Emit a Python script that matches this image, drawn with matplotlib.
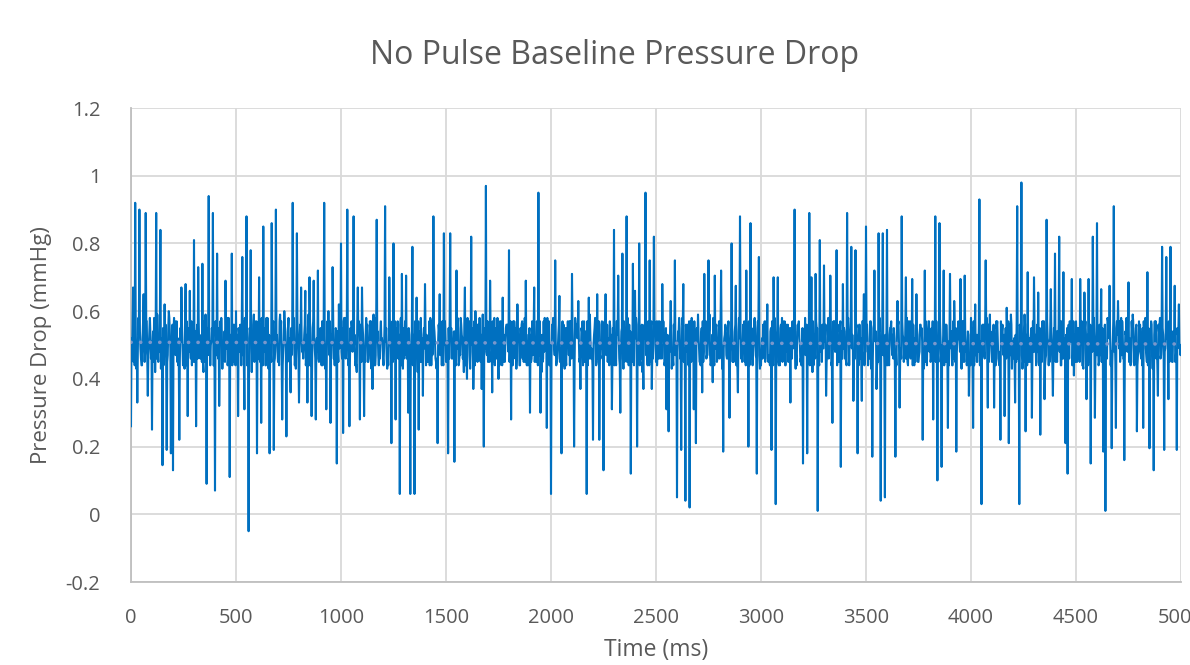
import numpy as np
import matplotlib
matplotlib.use("Agg")
import matplotlib.pyplot as plt

plt.rcParams['font.family'] = ['Open Sans', 'DejaVu Sans']
plt.rcParams['axes.unicode_minus'] = False

# main samples every 10 ms (spikes), one row per 100 ms
time_main = np.arange(0, 5001, 10)
pressure_main = [
    0.26, 0.67, 0.92, 0.33, 0.90, 0.44, 0.65, 0.89, 0.35, 0.58,
    0.25, 0.58, 0.89, 0.45, 0.84, 0.145, 0.62, 0.19, 0.60, 0.18,
    0.13, 0.57, 0.45, 0.22, 0.67, 0.46, 0.68, 0.29, 0.66, 0.44,
    0.81, 0.26, 0.73, 0.46, 0.74, 0.45, 0.09, 0.94, 0.50, 0.89,
    0.07, 0.77, 0.32, 0.58, 0.46, 0.69, 0.44, 0.11, 0.77, 0.45,
    0.60, 0.29, 0.56, 0.76, 0.31, 0.88, -0.05, 0.78, 0.46, 0.57,
    0.18, 0.70, 0.27, 0.85, 0.44, 0.58, 0.18, 0.86, 0.19, 0.90,
    0.45, 0.59, 0.28, 0.60, 0.23, 0.58, 0.36, 0.92, 0.44, 0.83,
    0.33, 0.67, 0.46, 0.66, 0.33, 0.70, 0.29, 0.69, 0.28, 0.72,
    0.46, 0.57, 0.92, 0.31, 0.60, 0.27, 0.73, 0.44, 0.15, 0.62,
    0.80, 0.24, 0.58, 0.90, 0.26, 0.57, 0.88, 0.45, 0.67, 0.28,
    0.67, 0.29, 0.58, 0.45, 0.56, 0.37, 0.58, 0.87, 0.44, 0.57,
    0.46, 0.91, 0.43, 0.70, 0.21, 0.80, 0.28, 0.57, 0.06, 0.71,
    0.46, 0.705, 0.30, 0.06, 0.79, 0.06, 0.64, 0.25, 0.58, 0.35,
    0.68, 0.45, 0.57, 0.44, 0.88, 0.46, 0.21, 0.65, 0.44, 0.83,
    0.45, 0.18, 0.83, 0.46, 0.155, 0.72, 0.44, 0.58, 0.46, 0.67,
    0.40, 0.57, 0.82, 0.37, 0.60, 0.45, 0.58, 0.37, 0.20, 0.97,
    0.45, 0.69, 0.36, 0.58, 0.46, 0.40, 0.57, 0.64, 0.45, 0.56,
    0.78, 0.28, 0.57, 0.46, 0.62, 0.44, 0.56, 0.45, 0.69, 0.44,
    0.30, 0.57, 0.67, 0.45, 0.95, 0.30, 0.45, 0.58, 0.255, 0.57,
    0.06, 0.58, 0.75, 0.46, 0.645, 0.18, 0.56, 0.46, 0.57, 0.44,
    0.71, 0.20, 0.56, 0.63, 0.37, 0.57, 0.45, 0.06, 0.64, 0.46,
    0.22, 0.58, 0.65, 0.22, 0.56, 0.13, 0.65, 0.45, 0.57, 0.31,
    0.84, 0.44, 0.705, 0.30, 0.77, 0.45, 0.88, 0.44, 0.12, 0.74,
    0.66, 0.20, 0.80, 0.46, 0.37, 0.95, 0.44, 0.75, 0.37, 0.82,
    0.45, 0.57, 0.46, 0.68, 0.44, 0.31, 0.245, 0.63, 0.46, 0.75,
    0.05, 0.58, 0.19, 0.68, 0.04, 0.56, 0.02, 0.58, 0.31, 0.21,
    0.59, 0.45, 0.36, 0.71, 0.46, 0.75, 0.44, 0.39, 0.705, 0.45,
    0.57, 0.72, 0.185, 0.56, 0.46, 0.285, 0.80, 0.45, 0.675, 0.36,
    0.88, 0.45, 0.57, 0.72, 0.20, 0.86, 0.44, 0.58, 0.12, 0.76,
    0.44, 0.56, 0.45, 0.62, 0.46, 0.19, 0.70, 0.03, 0.70, 0.44,
    0.58, 0.46, 0.56, 0.45, 0.33, 0.57, 0.90, 0.44, 0.57, 0.46,
    0.15, 0.58, 0.18, 0.89, 0.70, 0.44, 0.71, 0.01, 0.81, 0.45,
    0.735, 0.35, 0.58, 0.705, 0.27, 0.57, 0.78, 0.45, 0.14, 0.68,
    0.46, 0.89, 0.44, 0.79, 0.335, 0.78, 0.18, 0.56, 0.335, 0.65,
    0.85, 0.44, 0.57, 0.17, 0.72, 0.37, 0.83, 0.04, 0.83, 0.05,
    0.84, 0.44, 0.57, 0.46, 0.17, 0.63, 0.315, 0.88, 0.45, 0.70,
    0.44, 0.57, 0.695, 0.44, 0.65, 0.45, 0.56, 0.22, 0.72, 0.44,
    0.57, 0.46, 0.28, 0.88, 0.10, 0.86, 0.14, 0.72, 0.45, 0.255,
    0.71, 0.44, 0.63, 0.185, 0.57, 0.695, 0.45, 0.705, 0.44, 0.35,
    0.58, 0.255, 0.62, 0.45, 0.93, 0.03, 0.56, 0.75, 0.315, 0.59,
    0.45, 0.315, 0.57, 0.46, 0.22, 0.56, 0.29, 0.61, 0.21, 0.59,
    0.46, 0.33, 0.91, 0.03, 0.98, 0.45, 0.245, 0.715, 0.45, 0.285,
    0.70, 0.44, 0.655, 0.235, 0.57, 0.34, 0.87, 0.44, 0.665, 0.35,
    0.77, 0.45, 0.82, 0.44, 0.715, 0.21, 0.12, 0.57, 0.695, 0.41,
    0.57, 0.46, 0.695, 0.44, 0.655, 0.34, 0.695, 0.15, 0.82, 0.285,
    0.86, 0.45, 0.665, 0.185, 0.01, 0.58, 0.675, 0.195, 0.91, 0.255,
    0.63, 0.45, 0.57, 0.16, 0.58, 0.685, 0.44, 0.59, 0.45, 0.245,
    0.57, 0.46, 0.255, 0.58, 0.715, 0.195, 0.56, 0.13, 0.57, 0.35,
    0.58, 0.79, 0.19, 0.76, 0.34, 0.79, 0.45, 0.675, 0.19, 0.62,
    0.50,
]

# samples in between (2.5, 5 and 7.5 ms after each main sample),
# these form the dense band around 0.45-0.58
pressure_q1 = [
    0.52, 0.45, 0.56, 0.48, 0.54, 0.44, 0.51, 0.57, 0.47, 0.53,
    0.49, 0.56, 0.46, 0.53, 0.43, 0.55, 0.50, 0.45, 0.58, 0.48,
    0.54, 0.47, 0.52, 0.45, 0.57, 0.50, 0.44, 0.55, 0.49, 0.56,
    0.46, 0.53, 0.57, 0.49, 0.45, 0.52, 0.55, 0.47, 0.51, 0.44,
    0.57, 0.48, 0.45, 0.54, 0.50, 0.56, 0.46, 0.53, 0.44, 0.51,
    0.45, 0.55, 0.51, 0.47, 0.58, 0.44, 0.52, 0.49, 0.56, 0.46,
    0.53, 0.46, 0.58, 0.50, 0.44, 0.54, 0.48, 0.57, 0.45, 0.52,
    0.50, 0.54, 0.44, 0.56, 0.48, 0.46, 0.55, 0.51, 0.47, 0.57,
    0.47, 0.52, 0.49, 0.44, 0.55, 0.57, 0.45, 0.53, 0.50, 0.46,
    0.55, 0.44, 0.53, 0.48, 0.51, 0.46, 0.58, 0.47, 0.54, 0.49,
    0.48, 0.57, 0.46, 0.52, 0.45, 0.55, 0.50, 0.44, 0.53, 0.56,
    0.56, 0.49, 0.54, 0.46, 0.57, 0.48, 0.44, 0.52, 0.47, 0.51,
    0.44, 0.51, 0.47, 0.58, 0.49, 0.53, 0.55, 0.46, 0.56, 0.48,
    0.51, 0.46, 0.55, 0.50, 0.44, 0.57, 0.48, 0.54, 0.45, 0.53,
    0.54, 0.48, 0.44, 0.53, 0.56, 0.45, 0.51, 0.47, 0.57, 0.50,
    0.46, 0.55, 0.52, 0.47, 0.54, 0.49, 0.45, 0.56, 0.48, 0.44,
    0.58, 0.47, 0.50, 0.45, 0.53, 0.56, 0.46, 0.51, 0.55, 0.48,
    0.49, 0.53, 0.57, 0.44, 0.47, 0.52, 0.54, 0.45, 0.50, 0.56,
    0.45, 0.56, 0.48, 0.55, 0.51, 0.44, 0.57, 0.49, 0.46, 0.53,
    0.53, 0.47, 0.45, 0.57, 0.52, 0.48, 0.46, 0.55, 0.58, 0.44,
    0.47, 0.54, 0.51, 0.49, 0.45, 0.56, 0.53, 0.44, 0.52, 0.57,
    0.55, 0.45, 0.56, 0.52, 0.48, 0.44, 0.50, 0.57, 0.46, 0.49,
    0.50, 0.52, 0.46, 0.44, 0.57, 0.53, 0.47, 0.49, 0.55, 0.45,
    0.44, 0.57, 0.53, 0.48, 0.46, 0.55, 0.45, 0.56, 0.51, 0.52,
    0.52, 0.49, 0.44, 0.56, 0.54, 0.47, 0.57, 0.45, 0.48, 0.55,
    0.57, 0.46, 0.50, 0.53, 0.45, 0.51, 0.48, 0.55, 0.44, 0.47,
    0.48, 0.55, 0.47, 0.45, 0.56, 0.49, 0.52, 0.46, 0.57, 0.53,
    0.53, 0.44, 0.57, 0.51, 0.47, 0.54, 0.45, 0.58, 0.49, 0.46,
    0.46, 0.52, 0.49, 0.55, 0.53, 0.45, 0.56, 0.47, 0.44, 0.54,
    0.56, 0.48, 0.45, 0.50, 0.57, 0.46, 0.49, 0.53, 0.55, 0.47,
    0.49, 0.54, 0.52, 0.46, 0.44, 0.57, 0.53, 0.48, 0.45, 0.55,
    0.45, 0.57, 0.48, 0.53, 0.55, 0.49, 0.46, 0.54, 0.52, 0.44,
    0.54, 0.47, 0.55, 0.44, 0.50, 0.53, 0.57, 0.45, 0.48, 0.56,
    0.51, 0.45, 0.46, 0.57, 0.53, 0.48, 0.44, 0.56, 0.54, 0.49,
    0.47, 0.56, 0.53, 0.49, 0.45, 0.55, 0.51, 0.46, 0.57, 0.44,
    0.55, 0.48, 0.57, 0.46, 0.52, 0.44, 0.54, 0.50, 0.47, 0.53,
    0.44, 0.53, 0.50, 0.55, 0.48, 0.56, 0.45, 0.57, 0.52, 0.46,
    0.57, 0.46, 0.44, 0.52, 0.55, 0.47, 0.53, 0.49, 0.45, 0.54,
    0.48, 0.55, 0.53, 0.45, 0.47, 0.57, 0.50, 0.44, 0.56, 0.51,
    0.52, 0.44, 0.56, 0.48, 0.54, 0.46, 0.57, 0.53, 0.49, 0.45,
    0.46, 0.57, 0.47, 0.53, 0.44, 0.52, 0.48, 0.55, 0.56, 0.50,
    0.54, 0.49, 0.55, 0.45, 0.57, 0.48, 0.46, 0.52, 0.44, 0.56,
    0.49, 0.53, 0.46, 0.56, 0.47, 0.55, 0.53, 0.45, 0.51, 0.47,
    0.56, 0.45, 0.52, 0.47, 0.53, 0.44, 0.57, 0.49, 0.54, 0.48,
    0.45, 0.54, 0.48, 0.57, 0.46, 0.53, 0.50, 0.56, 0.44, 0.52,
    0.53, 0.47, 0.56, 0.44, 0.55, 0.49, 0.45, 0.52, 0.57, 0.46,
    0.47, 0.56, 0.45, 0.53, 0.49, 0.57, 0.52, 0.44, 0.48, 0.55,
    0.55, 0.48, 0.53, 0.46, 0.56, 0.45, 0.49, 0.57, 0.51, 0.44,
    0.50, 0.52, 0.57, 0.49, 0.44, 0.54, 0.47, 0.53, 0.46, 0.56,
    0.46, 0.55, 0.48, 0.52, 0.57, 0.47, 0.54, 0.45, 0.55, 0.49,
]

pressure_mid = [
    0.47, 0.55, 0.43, 0.58, 0.49, 0.52, 0.45, 0.57, 0.50, 0.46,
    0.54, 0.42, 0.59, 0.48, 0.51, 0.44, 0.56, 0.47, 0.53, 0.45,
    0.58, 0.49, 0.44, 0.55, 0.50, 0.43, 0.57, 0.52, 0.46, 0.54,
    0.45, 0.56, 0.48, 0.53, 0.42, 0.59, 0.47, 0.51, 0.55, 0.44,
    0.52, 0.46, 0.57, 0.43, 0.54, 0.49, 0.58, 0.45, 0.50, 0.56,
    0.48, 0.53, 0.44, 0.57, 0.51, 0.46, 0.55, 0.42, 0.59, 0.47,
    0.55, 0.45, 0.52, 0.48, 0.58, 0.43, 0.50, 0.56, 0.46, 0.53,
    0.44, 0.57, 0.49, 0.54, 0.45, 0.52, 0.47, 0.58, 0.43, 0.51,
    0.56, 0.48, 0.53, 0.46, 0.59, 0.44, 0.55, 0.49, 0.52, 0.45,
    0.50, 0.54, 0.43, 0.57, 0.47, 0.53, 0.46, 0.55, 0.48, 0.58,
    0.46, 0.58, 0.51, 0.44, 0.55, 0.48, 0.53, 0.42, 0.57, 0.49,
    0.53, 0.45, 0.56, 0.50, 0.43, 0.59, 0.47, 0.54, 0.46, 0.52,
    0.49, 0.55, 0.44, 0.52, 0.57, 0.46, 0.51, 0.48, 0.58, 0.43,
    0.57, 0.47, 0.53, 0.45, 0.50, 0.56, 0.42, 0.54, 0.49, 0.55,
    0.44, 0.52, 0.58, 0.47, 0.54, 0.43, 0.56, 0.50, 0.45, 0.57,
    0.51, 0.46, 0.55, 0.49, 0.44, 0.58, 0.48, 0.53, 0.42, 0.56,
    0.55, 0.43, 0.50, 0.57, 0.46, 0.53, 0.45, 0.59, 0.51, 0.47,
    0.48, 0.56, 0.45, 0.52, 0.58, 0.44, 0.54, 0.47, 0.55, 0.50,
    0.52, 0.47, 0.57, 0.43, 0.51, 0.55, 0.46, 0.58, 0.44, 0.53,
    0.45, 0.54, 0.49, 0.56, 0.47, 0.42, 0.57, 0.50, 0.53, 0.46,
    0.56, 0.50, 0.44, 0.53, 0.48, 0.57, 0.43, 0.55, 0.47, 0.52,
    0.47, 0.58, 0.52, 0.45, 0.55, 0.49, 0.54, 0.44, 0.59, 0.48,
    0.53, 0.44, 0.56, 0.51, 0.46, 0.57, 0.48, 0.52, 0.45, 0.55,
    0.50, 0.57, 0.46, 0.54, 0.43, 0.52, 0.58, 0.47, 0.53, 0.44,
    0.58, 0.48, 0.53, 0.42, 0.56, 0.47, 0.51, 0.55, 0.46, 0.54,
    0.44, 0.55, 0.50, 0.57, 0.45, 0.53, 0.48, 0.43, 0.56, 0.51,
    0.54, 0.46, 0.58, 0.49, 0.52, 0.44, 0.57, 0.50, 0.42, 0.55,
    0.49, 0.53, 0.45, 0.56, 0.47, 0.59, 0.46, 0.52, 0.55, 0.48,
    0.55, 0.43, 0.52, 0.47, 0.57, 0.50, 0.45, 0.54, 0.48, 0.58,
    0.46, 0.56, 0.49, 0.53, 0.44, 0.55, 0.51, 0.47, 0.57, 0.43,
    0.52, 0.48, 0.57, 0.45, 0.54, 0.46, 0.58, 0.49, 0.44, 0.56,
    0.57, 0.44, 0.51, 0.55, 0.48, 0.53, 0.43, 0.56, 0.50, 0.47,
    0.48, 0.54, 0.46, 0.58, 0.42, 0.52, 0.55, 0.45, 0.53, 0.49,
    0.53, 0.47, 0.56, 0.44, 0.57, 0.48, 0.51, 0.54, 0.46, 0.55,
    0.45, 0.58, 0.50, 0.53, 0.47, 0.56, 0.44, 0.52, 0.57, 0.48,
    0.56, 0.49, 0.43, 0.55, 0.51, 0.45, 0.58, 0.47, 0.52, 0.44,
    0.50, 0.55, 0.47, 0.52, 0.44, 0.57, 0.49, 0.53, 0.46, 0.58,
    0.47, 0.52, 0.56, 0.45, 0.53, 0.48, 0.55, 0.43, 0.57, 0.50,
    0.54, 0.46, 0.49, 0.57, 0.45, 0.52, 0.47, 0.56, 0.51, 0.44,
    0.49, 0.57, 0.45, 0.51, 0.55, 0.43, 0.53, 0.48, 0.54, 0.46,
    0.55, 0.44, 0.53, 0.48, 0.50, 0.56, 0.46, 0.58, 0.45, 0.52,
    0.46, 0.53, 0.57, 0.44, 0.51, 0.47, 0.55, 0.49, 0.56, 0.43,
    0.52, 0.45, 0.48, 0.55, 0.43, 0.59, 0.50, 0.46, 0.53, 0.57,
    0.48, 0.56, 0.44, 0.53, 0.57, 0.46, 0.52, 0.45, 0.49, 0.55,
    0.54, 0.49, 0.57, 0.46, 0.52, 0.44, 0.56, 0.51, 0.47, 0.53,
    0.45, 0.55, 0.50, 0.43, 0.57, 0.53, 0.47, 0.54, 0.58, 0.48,
    0.53, 0.47, 0.55, 0.51, 0.46, 0.56, 0.44, 0.50, 0.52, 0.57,
    0.49, 0.58, 0.46, 0.54, 0.48, 0.52, 0.57, 0.45, 0.55, 0.47,
    0.56, 0.44, 0.52, 0.47, 0.55, 0.49, 0.43, 0.57, 0.50, 0.54,
    0.47, 0.53, 0.49, 0.56, 0.45, 0.54, 0.51, 0.46, 0.53, 0.50,
]

pressure_q3 = [
    0.56, 0.44, 0.50, 0.53, 0.46, 0.57, 0.48, 0.45, 0.54, 0.51,
    0.45, 0.53, 0.48, 0.57, 0.52, 0.47, 0.44, 0.55, 0.49, 0.56,
    0.50, 0.57, 0.46, 0.51, 0.44, 0.55, 0.53, 0.48, 0.57, 0.45,
    0.54, 0.46, 0.52, 0.45, 0.57, 0.49, 0.56, 0.44, 0.53, 0.48,
    0.47, 0.55, 0.53, 0.49, 0.45, 0.58, 0.50, 0.46, 0.56, 0.44,
    0.53, 0.48, 0.57, 0.44, 0.52, 0.46, 0.54, 0.51, 0.45, 0.57,
    0.46, 0.56, 0.44, 0.55, 0.49, 0.53, 0.45, 0.57, 0.52, 0.48,
    0.57, 0.45, 0.51, 0.47, 0.55, 0.44, 0.53, 0.49, 0.56, 0.46,
    0.52, 0.49, 0.56, 0.53, 0.44, 0.47, 0.57, 0.46, 0.48, 0.54,
    0.44, 0.55, 0.47, 0.52, 0.57, 0.50, 0.46, 0.54, 0.45, 0.53,
    0.55, 0.47, 0.53, 0.46, 0.49, 0.56, 0.44, 0.57, 0.51, 0.45,
    0.48, 0.53, 0.45, 0.57, 0.52, 0.44, 0.55, 0.47, 0.54, 0.50,
    0.56, 0.46, 0.52, 0.49, 0.45, 0.57, 0.48, 0.53, 0.44, 0.55,
    0.47, 0.54, 0.44, 0.56, 0.53, 0.48, 0.57, 0.45, 0.52, 0.49,
    0.53, 0.45, 0.57, 0.48, 0.51, 0.46, 0.54, 0.56, 0.44, 0.52,
    0.49, 0.57, 0.46, 0.54, 0.44, 0.55, 0.47, 0.52, 0.57, 0.45,
    0.54, 0.48, 0.55, 0.44, 0.56, 0.47, 0.53, 0.45, 0.49, 0.57,
    0.45, 0.52, 0.49, 0.55, 0.46, 0.57, 0.44, 0.53, 0.56, 0.48,
    0.57, 0.44, 0.54, 0.47, 0.53, 0.49, 0.56, 0.45, 0.51, 0.55,
    0.46, 0.55, 0.52, 0.44, 0.57, 0.53, 0.48, 0.56, 0.45, 0.50,
    0.53, 0.47, 0.45, 0.56, 0.49, 0.44, 0.55, 0.51, 0.57, 0.46,
    0.49, 0.56, 0.53, 0.46, 0.54, 0.57, 0.45, 0.48, 0.52, 0.44,
    0.55, 0.45, 0.57, 0.49, 0.47, 0.52, 0.56, 0.44, 0.53, 0.48,
    0.47, 0.53, 0.44, 0.55, 0.57, 0.46, 0.50, 0.54, 0.45, 0.56,
    0.56, 0.46, 0.54, 0.45, 0.52, 0.48, 0.44, 0.57, 0.50, 0.53,
    0.48, 0.57, 0.46, 0.53, 0.55, 0.44, 0.56, 0.47, 0.52, 0.49,
    0.53, 0.49, 0.56, 0.44, 0.48, 0.57, 0.45, 0.54, 0.46, 0.51,
    0.45, 0.55, 0.48, 0.57, 0.52, 0.47, 0.53, 0.44, 0.56, 0.50,
    0.57, 0.47, 0.53, 0.46, 0.45, 0.55, 0.49, 0.56, 0.44, 0.52,
    0.50, 0.54, 0.44, 0.56, 0.53, 0.48, 0.57, 0.46, 0.55, 0.45,
    0.46, 0.57, 0.51, 0.47, 0.55, 0.44, 0.52, 0.56, 0.48, 0.53,
    0.54, 0.44, 0.56, 0.49, 0.46, 0.57, 0.47, 0.53, 0.45, 0.55,
    0.48, 0.56, 0.45, 0.53, 0.57, 0.46, 0.55, 0.44, 0.52, 0.49,
    0.56, 0.47, 0.53, 0.45, 0.49, 0.55, 0.48, 0.57, 0.46, 0.54,
    0.44, 0.53, 0.57, 0.50, 0.46, 0.52, 0.56, 0.45, 0.54, 0.48,
    0.52, 0.46, 0.48, 0.56, 0.54, 0.45, 0.49, 0.57, 0.44, 0.55,
    0.47, 0.55, 0.53, 0.44, 0.57, 0.49, 0.46, 0.52, 0.56, 0.45,
    0.55, 0.48, 0.46, 0.53, 0.45, 0.56, 0.51, 0.47, 0.54, 0.57,
    0.45, 0.57, 0.50, 0.47, 0.55, 0.44, 0.53, 0.56, 0.48, 0.52,
    0.54, 0.46, 0.55, 0.52, 0.48, 0.57, 0.45, 0.50, 0.53, 0.44,
    0.49, 0.53, 0.45, 0.56, 0.51, 0.47, 0.57, 0.44, 0.55, 0.48,
    0.56, 0.44, 0.52, 0.48, 0.54, 0.53, 0.46, 0.57, 0.47, 0.51,
    0.46, 0.57, 0.49, 0.53, 0.45, 0.56, 0.44, 0.52, 0.55, 0.48,
    0.53, 0.48, 0.55, 0.45, 0.57, 0.47, 0.51, 0.56, 0.44, 0.54,
    0.48, 0.56, 0.44, 0.52, 0.49, 0.55, 0.46, 0.53, 0.57, 0.45,
    0.55, 0.45, 0.57, 0.49, 0.53, 0.44, 0.56, 0.48, 0.51, 0.54,
    0.44, 0.54, 0.51, 0.56, 0.46, 0.52, 0.48, 0.57, 0.45, 0.53,
    0.57, 0.47, 0.46, 0.53, 0.55, 0.49, 0.54, 0.44, 0.56, 0.48,
    0.48, 0.55, 0.53, 0.45, 0.47, 0.57, 0.50, 0.52, 0.44, 0.56,
    0.52, 0.46, 0.55, 0.48, 0.56, 0.45, 0.53, 0.49, 0.54, 0.47,
]

x_ticks = [0, 500, 1000, 1500, 2000, 2500, 3000, 3500, 4000, 4500, 5000]
y_ticks = [-0.2, 0, 0.2, 0.4, 0.6, 0.8, 1, 1.2]

# interleave into one series sampled every 2.5 ms
n = len(pressure_main) + len(pressure_q1) + len(pressure_mid) + len(pressure_q3)
time_ms = np.empty(n)
pressure = np.empty(n)
time_ms[0::4] = time_main
time_ms[1::4] = time_main[:-1] + 2.5
time_ms[2::4] = time_main[:-1] + 5
time_ms[3::4] = time_main[:-1] + 7.5
pressure[0::4] = pressure_main
pressure[1::4] = pressure_q1
pressure[2::4] = pressure_mid
pressure[3::4] = pressure_q3

text_col = '#595959'
grid_col = '#D9D9D9'

fig = plt.figure(figsize=(11.9, 6.65), dpi=100)
ax = fig.add_axes([131/1190, 1 - 582/665, 1050/1190, 474/665])

ax.plot(time_ms, pressure, color='#0070C0', linewidth=1.5, zorder=3)

# linear trendline like excel
coef = np.polyfit(time_ms, pressure, 1)
ax.plot(time_ms, np.polyval(coef, time_ms), color='#7A97CC',
        linewidth=2.6, linestyle=(0, (0.05, 2.6)), dash_capstyle='round',
        zorder=4)

ax.set_xlim(0, 5000)
ax.set_ylim(-0.2, 1.2)
ax.set_xticks(x_ticks)
ax.set_yticks(y_ticks)
ax.set_yticklabels(['{:g}'.format(v) for v in y_ticks])
ax.grid(True, color=grid_col, linewidth=1.3)
ax.set_axisbelow(True)
ax.tick_params(length=0, labelsize=14.5, labelcolor=text_col)
ax.tick_params(axis='x', pad=19)
ax.tick_params(axis='y', pad=22)

for s in ['top', 'right']:
    ax.spines[s].set_visible(False)
for s in ['left', 'bottom']:
    ax.spines[s].set_color('#BFBFBF')
    ax.spines[s].set_linewidth(1.3)

ax.set_xlabel('Time (ms)', fontsize=16.5, color=text_col, labelpad=7)
ax.set_ylabel('Pressure Drop (mmHg)', fontsize=16, color=text_col, labelpad=10)
fig.text(615/1190, 1 - 55/665, 'No Pulse Baseline Pressure Drop',
         fontsize=23, color=text_col, ha='center', va='center')

fig.savefig('out.png', dpi=100)
